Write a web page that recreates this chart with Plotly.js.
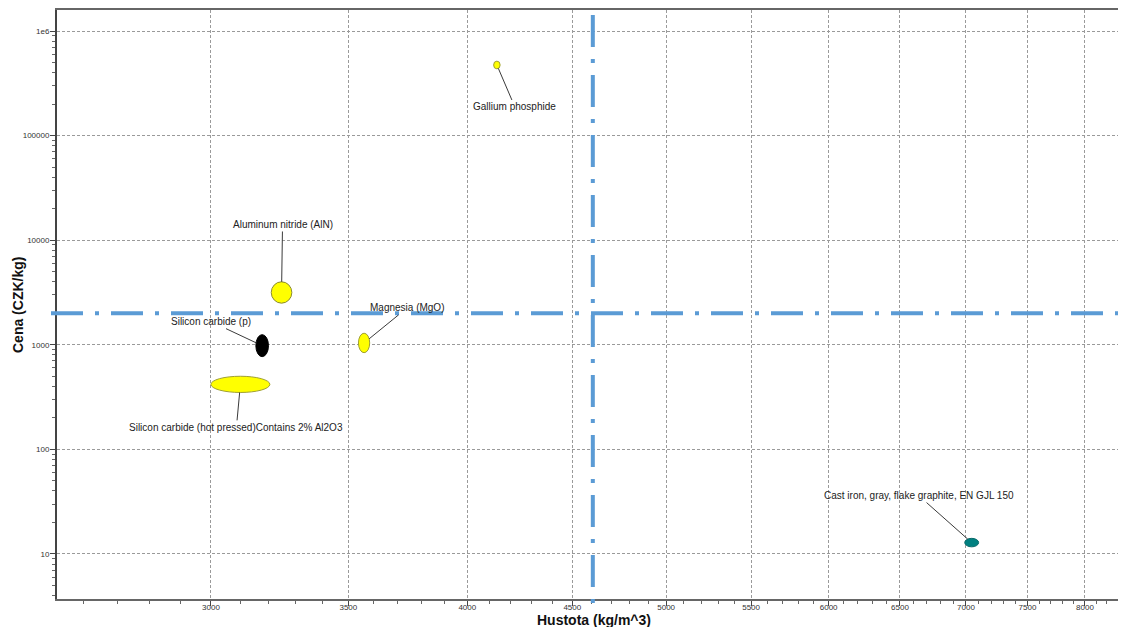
<!DOCTYPE html>
<html>
<head>
<meta charset="utf-8">
<script src="https://cdn.plot.ly/plotly-3.0.1.min.js"></script>
<style>
  html, body { margin: 0; padding: 0; background: #ffffff; }
  #chart { width: 1121px; height: 627px; }
</style>
</head>
<body>
<div id="chart"></div>
<script>
// Material bubbles: density range (kg/m^3) vs price range (CZK/kg)
const materials = [
  "Gallium phosphide",
  "Aluminum nitride (AlN)",
  "Silicon carbide (p)",
  "Magnesia (MgO)",
  "Silicon carbide (hot pressed)Contains 2% Al2O3",
  "Cast iron, gray, flake graphite, EN GJL 150"
];
const densityMin = [4120, 3210, 3155, 3540, 3000, 6990];
const densityMax = [4150, 3285, 3200, 3585, 3205, 7100];
const priceMin   = [435000, 2500, 770, 840, 350, 11.7];
const priceMax   = [515000, 4000, 1250, 1290, 500, 14.1];

// Reference limits drawn as dash-dot lines
const densityLimit = 4605;
const priceLimit = 2000;

// Axis ticks
const xTickVals = [3000, 3500, 4000, 4500, 5000, 5500, 6000, 6500, 7000, 7500, 8000];
const yTickVals = [10, 100, 1000, 10000, 100000, 1000000];
const yTickText = ["10", "100", "1000", "10000", "100000", "1e6"];

// Styling
const fillColors = ["#ffff00", "#ffff00", "#000000", "#ffff00", "#ffff00", "#008080"];
const edgeColors = ["#a0a030", "#8a8a30", "#000000", "#a0a030", "#a0a030", "#0a6a6a"];
// label centre offset from bubble centre, in pixels (right, down)
const labelOffsets = [[18, 42], [1, -68], [-51, -24], [43, -35], [-4, 43], [-53, -47]];

const W = 1121, H = 627;
const M = { l: 57, r: 3, t: 10, b: 28 };
const plotW = W - M.l - M.r, plotH = H - M.t - M.b;
const xRange = [Math.log10(2524), Math.log10(8302)];
const yRange = [Math.log10(3.71), Math.log10(1.588e6)];
const kx = plotW / (xRange[1] - xRange[0]);
const ky = plotH / (yRange[1] - yRange[0]);

// minor ticks
const xMinor = [];
for (let v = 2600; v <= 8200; v += 100) if (v % 500 !== 0) xMinor.push(v);
const yMinor = [];
for (let e = 0; e <= 6; e++) for (let m = 2; m <= 9; m++) yMinor.push(m * Math.pow(10, e));

const fontFamily = "Liberation Sans, Arial, sans-serif";
const shapes = [];
const annotations = [];

materials.forEach((name, i) => {
  shapes.push({
    type: "circle", xref: "x", yref: "y", layer: "above",
    x0: densityMin[i], x1: densityMax[i], y0: priceMin[i], y1: priceMax[i],
    fillcolor: fillColors[i],
    line: { color: edgeColors[i], width: 1 }
  });
  // leader line starts on the bubble's edge, pointing to the label
  const lx0 = Math.log10(densityMin[i]), lx1 = Math.log10(densityMax[i]);
  const ly0 = Math.log10(priceMin[i]), ly1 = Math.log10(priceMax[i]);
  const cx = (lx0 + lx1) / 2, cy = (ly0 + ly1) / 2;
  const rx = (lx1 - lx0) / 2 * kx, ry = (ly1 - ly0) / 2 * ky;
  const [dx, dy] = labelOffsets[i];
  const s = 1 / Math.sqrt((dx / rx) ** 2 + (dy / ry) ** 2);
  annotations.push({
    xref: "x", yref: "y",
    x: cx + s * dx / kx, y: cy - s * dy / ky,
    ax: dx * (1 - s), ay: dy * (1 - s),
    text: name, showarrow: true, arrowhead: 0, arrowwidth: 1, arrowcolor: "#3a3a3a",
    standoff: 0, startstandoff: 0,
    font: { family: fontFamily, size: 10, color: "#222222" }
  });
});

// dash-dot limit lines
const limitLine = { color: "#5b9bd5", width: 4, dash: "32px,12px,4px,12px" };
// vertical: from 5px below the top edge to ~5px below the x axis
shapes.push({
  type: "line", xref: "x", yref: "paper", layer: "above",
  x0: densityLimit, x1: densityLimit,
  y0: (plotH - 5) / plotH, y1: -5 / plotH,
  line: limitLine
});
// horizontal: from just left of the y axis across the whole plot
shapes.push({
  type: "line", xref: "paper", yref: "y", layer: "above",
  x0: -6 / plotW, x1: 1.0,
  y0: priceLimit, y1: priceLimit, line: limitLine
});

// axis titles
const titleFont = { family: fontFamily, size: 14, color: "#111111", weight: "bold" };
annotations.push({
  xref: "paper", yref: "paper", x: (594 - M.l) / plotW, y: -21 / plotH,
  xanchor: "center", yanchor: "middle", showarrow: false,
  text: "Hustota (kg/m^3)", font: titleFont
});
annotations.push({
  xref: "paper", yref: "paper", x: (18 - M.l) / plotW, y: (M.t + plotH - 305) / plotH,
  xanchor: "center", yanchor: "middle", showarrow: false, textangle: -90,
  text: "Cena (CZK/kg)", font: titleFont
});

const trace = {
  type: "scatter", mode: "markers",
  x: densityMin.map((v, i) => Math.sqrt(v * densityMax[i])),
  y: priceMin.map((v, i) => Math.sqrt(v * priceMax[i])),
  text: materials, hoverinfo: "text",
  marker: { size: 1, opacity: 0 }, showlegend: false
};

const tickFont = { family: fontFamily, size: 8, color: "#333333" };

const layout = {
  width: W, height: H,
  margin: M,
  paper_bgcolor: "#ffffff", plot_bgcolor: "#ffffff",
  showlegend: false,
  xaxis: {
    type: "log", range: xRange, autorange: false,
    tickmode: "array", tickvals: xTickVals, ticktext: xTickVals.map(String),
    tickfont: tickFont, ticks: "outside", ticklen: 5, tickcolor: "#444",
    ticklabelstandoff: -6,
    showline: true, linecolor: "#666666", linewidth: 2, mirror: true,
    showgrid: true, gridcolor: "#9a9a9a", gridwidth: 1, griddash: "3px,2px",
    zeroline: false,
    minor: { tickmode: "array", tickvals: xMinor, ticks: "outside", ticklen: 3, tickcolor: "#666", showgrid: false }
  },
  yaxis: {
    type: "log", range: yRange, autorange: false,
    tickmode: "array", tickvals: yTickVals, ticktext: yTickText,
    tickfont: tickFont, ticks: "outside", ticklen: 5, tickcolor: "#444",
    ticklabelstandoff: -1,
    showline: true, linecolor: "#444444", linewidth: 2, mirror: false,
    showgrid: true, gridcolor: "#9a9a9a", gridwidth: 1, griddash: "3px,2px",
    zeroline: false,
    minor: { tickmode: "array", tickvals: yMinor, ticks: "outside", ticklen: 3, tickcolor: "#666", showgrid: false }
  },
  shapes: shapes,
  annotations: annotations
};

Plotly.newPlot("chart", [trace], layout, { displayModeBar: false, staticPlot: true });
</script>
</body>
</html>
